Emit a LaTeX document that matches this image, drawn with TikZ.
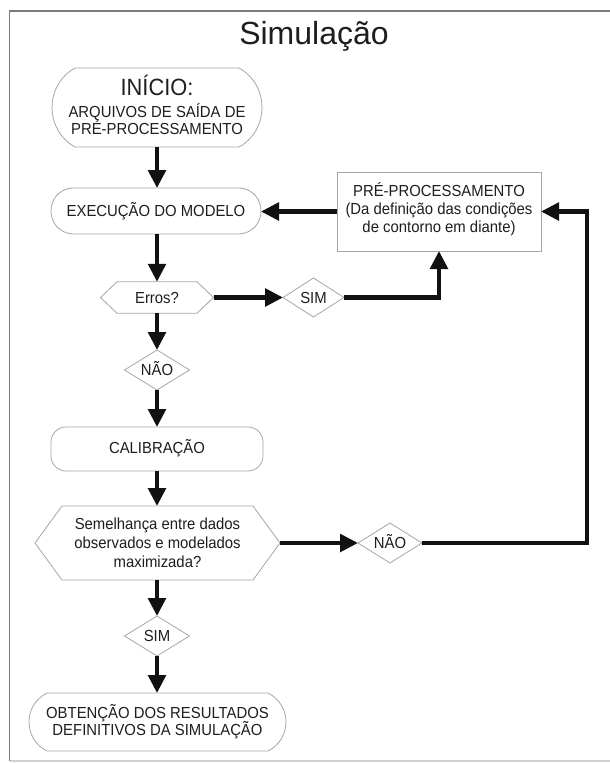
\documentclass[tikz,border=0pt]{standalone}
\usepackage{fontspec}
\setmainfont{Liberation Sans}
\newfontfamily\narrowfont[FakeStretch=0.93]{Liberation Sans}
\usetikzlibrary{arrows.meta,calc}
\definecolor{txt}{HTML}{1E1E1E}
\definecolor{lin}{HTML}{A6A6A6}
\definecolor{ark}{HTML}{111111}
\definecolor{frm}{HTML}{7A7A7A}
\definecolor{frmb}{HTML}{D0D0D0}
\newcommand\fsA{\narrowfont\fontsize{16pt}{18pt}\selectfont}
\newcommand\fsB{\narrowfont\fontsize{23.5pt}{25pt}\selectfont}
% raise, line pitch, rows separated by \cr
\newcommand\tx[3]{\raisebox{#1}[0pt][0pt]{\vtop{\baselineskip=#2\lineskiplimit=-100pt\lineskip=0pt\halign{\hfil##\hfil\cr#3\crcr}}}}
\newcommand\hexout[2]{\draw[outline] (#1.west) -- ([xshift=#2]#1.north west) -- ([xshift=-#2]#1.north east) -- (#1.east) -- ([xshift=-#2]#1.south east) -- ([xshift=#2]#1.south west) -- cycle;}
\newcommand\diaout[1]{\draw[outline] (#1.west) -- (#1.north) -- (#1.east) -- (#1.south) -- cycle;}
\newcommand\termout[3]{\draw[outline] ([xshift=#2]#1.north west) -- ([xshift=-#2]#1.north east) .. controls +({4/3*#2},-#3) and +({4/3*#2},#3) .. ([xshift=-#2]#1.south east) -- ([xshift=#2]#1.south west) .. controls +({-4/3*#2},#3) and +({-4/3*#2},-#3) .. ([xshift=#2]#1.north west) -- cycle;}
\begin{document}
\begin{tikzpicture}[x=1pt,y=-1pt,
  shp/.style={inner sep=0pt, outer sep=0pt, text=txt, font=\fsA},
  outline/.style={draw=lin, line width=0.8pt, line join=round},
  boxed/.style={shp, draw=lin, line width=0.8pt},
  roundbox/.style={shp, draw=lin, line width=0.8pt, rounded corners=15pt},
  titlefont/.style={inner sep=0pt, text=txt, font=\fontsize{32pt}{36pt}\selectfont, anchor=base},
  arr/.style={draw=ark, line width=4.2pt, -{Triangle[length=18pt,width=17.5pt]}},
  frame/.style={draw=frm, line width=1.6pt},
  framefaint/.style={draw=frmb, line width=1.2pt}]
\useasboundingbox (0,0) rectangle (610,763);
\fill[white] (0,0) rectangle (610,763);
\draw[frame] (620,11) -- (9.5,11) -- (9.5,761);
\draw[framefaint] (9.5,761) -- (620,761);

\node[titlefont] (title) at (314,44.5) {Simulação};

\node[shp, minimum width=210pt, minimum height=79pt] (inicio) at (157,107.5)
  {\tx{12pt}{17pt}{\fsB INÍCIO:\cr\noalign{\kern5pt}ARQUIVOS DE SAÍDA DE\cr PRÉ-PROCESSAMENTO}};
\node[shp, minimum width=210pt, minimum height=46pt] (exec) at (156,211)
  {\tx{-5.7pt}{18pt}{EXECUÇÃO DO MODELO}};
\node[boxed, minimum width=204pt, minimum height=79pt] (pre) at (439,211.5)
  {\tx{15pt}{18pt}{PRÉ-PROCESSAMENTO\cr(Da definição das condições\cr de contorno em diante)}};
\node[shp, minimum width=113pt, minimum height=31.5pt] (erros) at (157,297.5)
  {\tx{-5.7pt}{18pt}{Erros?}};
\node[shp, minimum width=61pt, minimum height=39pt] (sim1) at (313.5,297.5)
  {\tx{-5.7pt}{18pt}{SIM}};
\node[shp, minimum width=65pt, minimum height=40pt] (nao1) at (157,370)
  {\tx{-5.7pt}{18pt}{NÃO}};
\node[roundbox, minimum width=212pt, minimum height=44pt] (calib) at (157,449)
  {\tx{-4.7pt}{18pt}{CALIBRAÇÃO}};
\node[shp, minimum width=245pt, minimum height=74pt] (semel) at (157.5,543)
  {\tx{14pt}{19pt}{Semelhança entre dados\cr observados e modelados\cr maximizada?}};
\node[shp, minimum width=64pt, minimum height=40pt] (nao2) at (390,543)
  {\tx{-5.7pt}{18pt}{NÃO}};
\node[shp, minimum width=65pt, minimum height=40pt] (sim2) at (157,636)
  {\tx{-5.7pt}{18pt}{SIM}};
\node[shp, minimum width=257pt, minimum height=58pt] (obt) at (157.5,722)
  {\tx{3.6pt}{17.5pt}{OBTENÇÃO DOS RESULTADOS\cr DEFINITIVOS DA SIMULAÇÃO}};

% outlines
\termout{inicio}{23pt}{17pt}
\termout{exec}{21pt}{3pt}
\termout{obt}{18pt}{12pt}
\hexout{erros}{16.5pt}
\hexout{semel}{27pt}
\diaout{sim1}
\diaout{nao1}
\diaout{nao2}
\diaout{sim2}

% connectors
\coordinate (rc) at (587,543);
\draw[arr] (inicio.south) -- (inicio.south |- exec.north);
\draw[arr] (erros.north |- exec.south) -- (erros.north);
\draw[arr] (erros.east) -- (sim1.west);
\draw[arr] (sim1.east) -| (pre.south);
\draw[arr] (pre.west) -- (pre.west -| exec.east);
\draw[arr] (erros.south) -- (nao1.north);
\draw[arr] (nao1.south) -- (calib.north);
\draw[arr] (calib.south) -- (calib.south |- semel.north);
\draw[arr] (semel.east) -- (nao2.west);
\draw[arr] (nao2.east) -- (rc) |- (pre.east);
\draw[arr] (sim2.north |- semel.south) -- (sim2.north);
\draw[arr] (sim2.south) -- (sim2.south |- obt.north);
\end{tikzpicture}
\end{document}
